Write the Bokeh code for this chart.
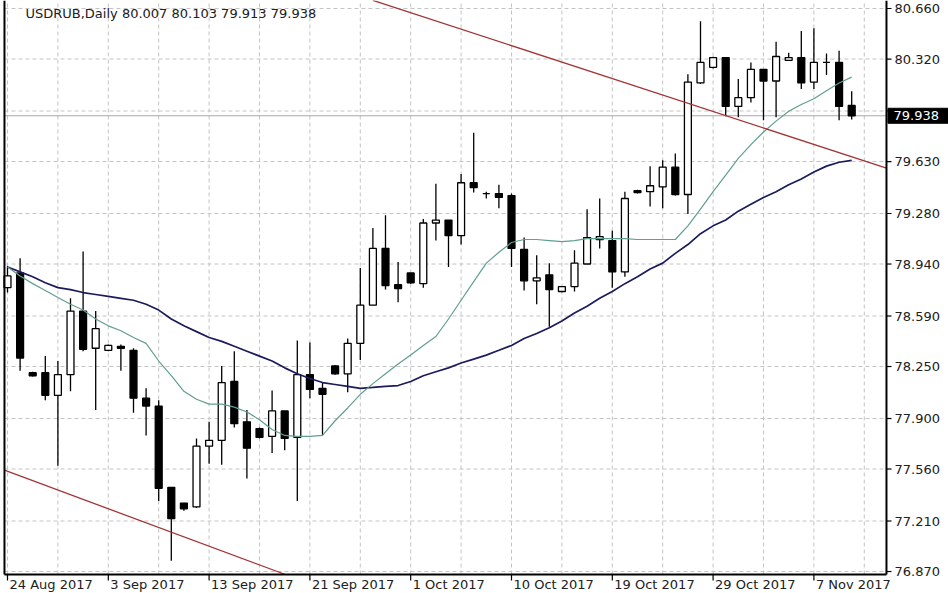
import numpy as np
from bokeh.plotting import figure
from bokeh.models import Range1d
from bokeh.embed import file_html
from bokeh.resources import INLINE
from bokeh.core.properties import value

# ---- data ----
opens = [78.781, 78.880, 78.208, 78.208, 78.056, 78.195, 78.623, 78.373, 78.359, 78.386,
         78.359, 78.037, 77.984, 77.437, 77.331, 77.305, 77.714, 77.753, 78.149, 77.878,
         77.832, 77.780, 77.951, 77.773, 78.195, 78.103, 78.254, 78.201, 78.406, 78.663,
         79.045, 78.801, 78.880, 78.808, 79.216, 79.236, 79.131, 79.487, 79.414, 79.414,
         79.401, 79.038, 78.827, 78.867, 78.755, 78.788, 78.940, 79.104, 79.098, 78.887,
         79.434, 79.427, 79.460, 79.592, 79.408, 80.159, 80.264, 80.330, 80.001, 80.060,
         80.251, 80.172, 80.311, 80.330, 80.165, 80.297, 80.297, 80.007]
highs = [78.926, 78.979, 78.215, 78.320, 78.287, 78.709, 79.025, 78.623, 78.399, 78.399,
         78.373, 78.103, 78.023, 77.437, 77.331, 77.766, 77.878, 78.254, 78.353, 77.958,
         77.840, 78.089, 77.951, 78.425, 78.412, 78.142, 78.260, 78.439, 78.913, 79.183,
         79.269, 78.953, 78.880, 79.243, 79.480, 79.236, 79.546, 79.823, 79.427, 79.473,
         79.414, 79.118, 78.999, 78.946, 78.790, 79.032, 79.309, 79.381, 79.164, 79.427,
         79.440, 79.599, 79.638, 79.684, 80.218, 80.574, 80.336, 80.330, 80.185, 80.297,
         80.251, 80.436, 80.363, 80.508, 80.528, 80.357, 80.376, 80.103]
lows = [78.748, 78.221, 78.182, 78.023, 77.582, 78.083, 78.353, 77.958, 78.353, 78.221,
        77.938, 77.786, 77.345, 76.943, 77.279, 77.298, 77.595, 77.589, 77.839, 77.496,
        77.766, 77.668, 77.687, 77.345, 78.037, 77.786, 78.195, 78.076, 78.294, 78.663,
        78.768, 78.683, 78.808, 78.781, 79.098, 78.920, 79.071, 79.421, 79.381, 79.315,
        78.920, 78.762, 78.669, 78.518, 78.750, 78.755, 78.940, 79.045, 78.781, 78.854,
        79.415, 79.328, 79.315, 79.401, 79.276, 80.152, 80.257, 79.935, 79.928, 80.027,
        79.908, 79.928, 80.311, 80.119, 80.119, 80.212, 79.908, 79.913]
closes = [78.860, 78.307, 78.188, 78.056, 78.195, 78.623, 78.366, 78.505, 78.392, 78.373,
          78.037, 77.984, 77.430, 77.226, 77.292, 77.714, 77.753, 78.142, 77.865, 77.700,
          77.773, 77.951, 77.766, 78.195, 78.096, 78.063, 78.201, 78.406, 78.663, 79.045,
          78.795, 78.775, 78.814, 79.216, 79.236, 79.131, 79.487, 79.454, 79.414, 79.388,
          79.045, 78.827, 78.847, 78.768, 78.788, 78.946, 79.118, 79.124, 78.887, 79.381,
          79.421, 79.467, 79.592, 79.408, 80.165, 80.297, 80.330, 80.001, 80.060, 80.251,
          80.172, 80.337, 80.330, 80.159, 80.297, 80.297, 80.001, 79.938]

ma_fast = [78.920, 78.860, 78.808, 78.762, 78.715, 78.669, 78.630, 78.570, 78.524, 78.491,
           78.445, 78.406, 78.287, 78.188, 78.083, 78.030, 77.997, 77.997, 77.977, 77.944,
           77.892, 77.826, 77.786, 77.780, 77.780, 77.786, 77.885, 77.971, 78.063, 78.135,
           78.201, 78.267, 78.327, 78.392, 78.452, 78.570, 78.696, 78.821, 78.946, 79.019,
           79.085, 79.105, 79.105, 79.098, 79.091, 79.098, 79.111, 79.111, 79.111, 79.111,
           79.105, 79.105, 79.105, 79.105, 79.197, 79.309, 79.427, 79.539, 79.651, 79.744,
           79.829, 79.902, 79.968, 80.014, 80.053, 80.106, 80.159, 80.198]
ma_slow = [78.920, 78.887, 78.854, 78.814, 78.781, 78.768, 78.748, 78.735, 78.722, 78.709,
           78.696, 78.669, 78.630, 78.570, 78.524, 78.485, 78.445, 78.419, 78.386, 78.353,
           78.320, 78.287, 78.241, 78.201, 78.169, 78.142, 78.129, 78.116, 78.103, 78.109,
           78.116, 78.122, 78.149, 78.188, 78.215, 78.241, 78.274, 78.300, 78.327, 78.359,
           78.392, 78.439, 78.472, 78.511, 78.557, 78.610, 78.656, 78.709, 78.755, 78.808,
           78.854, 78.907, 78.946, 79.012, 79.071, 79.144, 79.197, 79.236, 79.296, 79.342,
           79.388, 79.427, 79.473, 79.513, 79.559, 79.599, 79.625, 79.638]

trend_upper_bars = [29.0, 69.76]
trend_upper_prices = [80.715, 79.585]
trend_lower_bars = [-0.24, 22.05]
trend_lower_prices = [77.552, 76.850]

date_tick_bars = [0, 8, 16, 24, 32, 40, 48, 56, 64]
date_tick_labels = ["24 Aug 2017", "3 Sep 2017", "13 Sep 2017", "21 Sep 2017", "1 Oct 2017",
                    "10 Oct 2017", "19 Oct 2017", "29 Oct 2017", "7 Nov 2017"]
grid_bars = list(range(0, 70, 4))
price_ticks = [76.870, 77.210, 77.560, 77.900, 78.250, 78.590, 78.940, 79.280, 79.630,
               79.970, 80.320, 80.660]
hidden_price_tick = 79.970          # its label sits under the current-price box
last_price = 79.938
title_text = "USDRUB,Daily  80.007 80.103 79.913 79.938"

# ---- layout: the frame covers the whole canvas, the chart area sits inside it ----
W, H = 948, 593
x_lo, x_hi = -0.5556, 74.683
y_lo, y_hi = 76.722, 80.714
chart_left, chart_right, chart_bottom = -0.24, 69.76, 76.850
ppb = W / (x_hi - x_lo)      # pixels per bar
ppu = H / (y_hi - y_lo)      # pixels per price unit

FONT = "DejaVu Sans"
TXT = "#202020"
GRID = "#c4c4c4"

p = figure(width=W, height=H, output_backend="svg", toolbar_location=None,
           x_range=Range1d(x_lo, x_hi), y_range=Range1d(y_lo, y_hi),
           x_axis_type=None, y_axis_type=None,
           min_border_left=0, min_border_right=0, min_border_top=0, min_border_bottom=0)
p.outline_line_color = None
p.background_fill_color = "white"
p.border_fill_color = "white"
p.grid.visible = False

# grid
p.segment(x0=grid_bars, y0=[chart_bottom] * len(grid_bars), x1=grid_bars, y1=[y_hi] * len(grid_bars),
          line_color=GRID, line_dash="4 3", line_width=1)
p.segment(x0=[chart_left] * len(price_ticks), y0=price_ticks, x1=[chart_right] * len(price_ticks),
          y1=price_ticks, line_color=GRID, line_dash="4 3", line_width=1)

# current price line
p.segment(x0=[chart_left], y0=[last_price], x1=[chart_right], y1=[last_price],
          line_color="#a8a8a8", line_width=1.2)

# candles
idx = np.arange(len(opens))
o = np.array(opens); c = np.array(closes); h = np.array(highs); l = np.array(lows)
up = c >= o
p.segment(idx, h, idx, l, line_color="black", line_width=1.3)
p.vbar(x=idx[up], width=0.55, top=c[up], bottom=o[up], fill_color="white",
       line_color="black", line_width=1.3)
p.vbar(x=idx[~up], width=0.55, top=o[~up], bottom=c[~up], fill_color="black",
       line_color="black", line_width=1.3)

# moving averages
p.line(idx, ma_slow, line_color="#1b1b5c", line_width=1.7)
p.line(idx, ma_fast, line_color="#5f9f90", line_width=1.2)

# trend channel lines
p.line(trend_upper_bars, trend_upper_prices, line_color="#a33434", line_width=1.3)
p.line(trend_lower_bars, trend_lower_prices, line_color="#a33434", line_width=1.3)

# chart borders / axis lines
p.segment(x0=[chart_left], y0=[chart_bottom], x1=[chart_left], y1=[y_hi], line_color="black", line_width=2)
p.segment(x0=[chart_left], y0=[chart_bottom], x1=[chart_right], y1=[chart_bottom], line_color="black", line_width=2)
p.segment(x0=[chart_right], y0=[chart_bottom], x1=[chart_right], y1=[y_hi], line_color="black", line_width=2)

# price axis ticks and labels (right)
shown = [t for t in price_ticks if t != hidden_price_tick]
p.segment(x0=[chart_right] * len(price_ticks), y0=price_ticks,
          x1=[chart_right + 5 / ppb] * len(price_ticks), y1=price_ticks,
          line_color="black", line_width=1.2)
p.text(x=[chart_right] * len(shown), y=shown, text=[f"{t:.3f}" for t in shown],
       x_offset=8, text_align="left", text_baseline="middle",
       text_font=value(FONT), text_font_size="13px", text_color=TXT)

# time axis ticks and labels (bottom)
p.segment(x0=date_tick_bars, y0=[chart_bottom] * len(date_tick_bars),
          x1=date_tick_bars, y1=[chart_bottom - 6 / ppu] * len(date_tick_bars),
          line_color="black", line_width=1.2)
p.text(x=date_tick_bars, y=[chart_bottom - 3 / ppu] * len(date_tick_bars), text=date_tick_labels,
       x_offset=2, text_align="left", text_baseline="top",
       text_font=value(FONT), text_font_size="13px", text_color=TXT)

# current price box
p.quad(left=[chart_right + 1.5 / ppb], right=[x_hi], top=[last_price + 7.5 / ppu],
       bottom=[last_price - 7.5 / ppu], fill_color="black", line_color="black")
p.text(x=[chart_right], y=[last_price], text=[f"{last_price:.3f}"], x_offset=7,
       text_align="left", text_baseline="middle", text_font=value(FONT),
       text_font_size="13px", text_color="white")

# title
p.text(x=[chart_left], y=[y_hi - 13 / ppu], text=[title_text], x_offset=21,
       text_align="left", text_baseline="alphabetic", text_font=value(FONT),
       text_font_size="13px", text_color=TXT)

open("out.html", "w").write(file_html(p, INLINE))
